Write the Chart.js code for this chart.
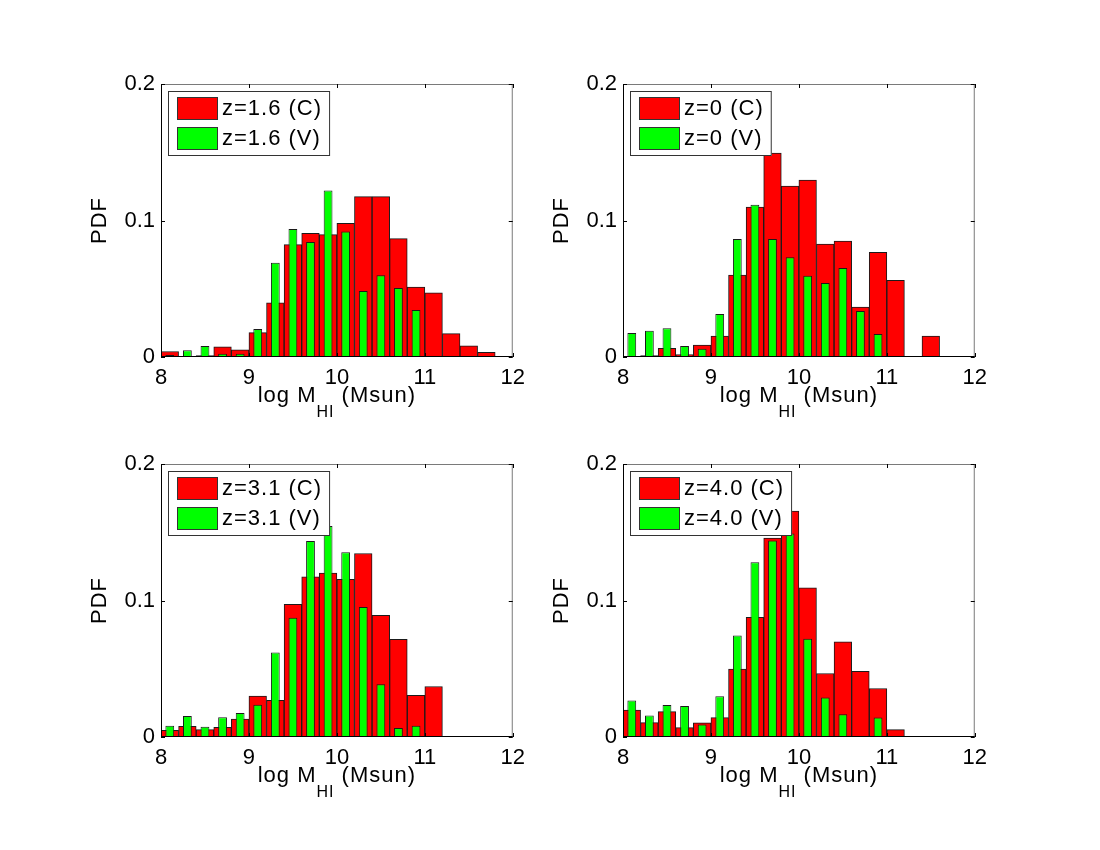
<!DOCTYPE html>
<html>
<head>
<meta charset="utf-8">
<script src="https://cdn.jsdelivr.net/npm/chart.js@4/dist/chart.umd.min.js"></script>
<style>
  html, body { margin: 0; padding: 0; background: #ffffff; }
  #fig { position: relative; width: 1100px; height: 850px; background: #ffffff; overflow: hidden; }
  #fig canvas { position: absolute; }
</style>
</head>
<body>
<div id="fig"></div>
<script>
// ---- data ----
const binCenters = [8.1, 8.3, 8.5, 8.7, 8.9, 9.1, 9.3, 9.5, 9.7, 9.9, 10.1, 10.3, 10.5, 10.7, 10.9, 11.1, 11.3, 11.5, 11.7, 11.9];
const xTickValues = [8, 9, 10, 11, 12];
const yTickValues = [0, 0.1, 0.2];
const yTickLabels = ['0', '0.1', '0.2'];

const z16C = [0.0040, 0.0005, 0.0010, 0.0075, 0.0052, 0.0178, 0.0396, 0.0823, 0.0906, 0.0896, 0.0980, 0.1175, 0.1175, 0.0867, 0.0513, 0.0471, 0.0171, 0.0081, 0.0034, 0];
const z16V = [0.0015, 0.0049, 0.0081, 0.0024, 0.0023, 0.0205, 0.0691, 0.0938, 0.0842, 0.1219, 0.0920, 0.0484, 0.0598, 0.0505, 0.0344, 0, 0, 0, 0, 0];

const z0C = [0.0005, 0.0010, 0.0063, 0.0017, 0.0088, 0.0154, 0.0601, 0.1099, 0.1494, 0.1253, 0.1297, 0.0828, 0.0850, 0.0366, 0.0767, 0.0562, 0, 0.0154, 0, 0];
const z0V = [0.0176, 0.0193, 0.0210, 0.0081, 0.0061, 0.0315, 0.0864, 0.1116, 0.0864, 0.0730, 0.0596, 0.0542, 0.0652, 0.0337, 0.0168, 0, 0, 0, 0, 0];

const z31C = [0.0049, 0.0078, 0.0054, 0.0071, 0.0132, 0.0299, 0.0269, 0.0972, 0.1173, 0.1200, 0.1155, 0.1344, 0.0891, 0.0715, 0.0306, 0.0370, 0, 0, 0, 0];
const z31V = [0.0083, 0.0154, 0.0076, 0.0144, 0.0176, 0.0237, 0.0619, 0.0874, 0.1435, 0.1545, 0.1354, 0.0952, 0.0387, 0.0066, 0.0083, 0, 0, 0, 0, 0];

const z40C = [0.0198, 0.0105, 0.0186, 0.0069, 0.0103, 0.0142, 0.0497, 0.0876, 0.1457, 0.1655, 0.1092, 0.0465, 0.0698, 0.0482, 0.0355, 0.0054, 0, 0, 0, 0];
const z40V = [0.0267, 0.0157, 0.0235, 0.0228, 0.0091, 0.0299, 0.0744, 0.1280, 0.1439, 0.1490, 0.0720, 0.0289, 0.0166, 0, 0.0142, 0, 0, 0, 0, 0];

const panelLabels = [
  ['z=1.6 (C)', 'z=1.6 (V)'],
  ['z=0 (C)', 'z=0 (V)'],
  ['z=3.1 (C)', 'z=3.1 (V)'],
  ['z=4.0 (C)', 'z=4.0 (V)']
];
const panelSeries = [[z16C, z16V], [z0C, z0V], [z31C, z31V], [z40C, z40V]];
const yTitle = 'PDF';
const xTitleParts = ['log M', 'HI', ' (Msun)'];

// ---- layout ----
const FONT = "'Liberation Sans', Arial, Helvetica, sans-serif";
const panelPos = [
  { left: 161, top: 84 },
  { left: 623, top: 84 },
  { left: 161, top: 464 },
  { left: 623, top: 464 }
];
const PW = 352, PH = 273, PADL = 100, PADT = 20, PADR = 20, PADB = 80;

const RED = '#ff0000', GREEN = '#00ff00', EDGE = '#1a1a1a';

function decorPlugin(labels) {
  return {
    id: 'matlabDecor',
    afterDatasetsDraw(chart) {
      const ctx = chart.ctx;
      const ca = chart.chartArea;
      const xs = chart.scales.x, ys = chart.scales.y;
      ctx.save();
      // box lines
      ctx.lineWidth = 1;
      ctx.strokeStyle = '#7a7a7a';
      ctx.beginPath();
      ctx.moveTo(ca.left, ca.top + 0.5); ctx.lineTo(ca.right, ca.top + 0.5);
      ctx.moveTo(ca.right - 0.5, ca.top); ctx.lineTo(ca.right - 0.5, ca.bottom);
      ctx.stroke();
      ctx.strokeStyle = '#000000';
      ctx.beginPath();
      ctx.moveTo(ca.left + 0.5, ca.top); ctx.lineTo(ca.left + 0.5, ca.bottom);
      ctx.moveTo(ca.left, ca.bottom - 0.5); ctx.lineTo(ca.right, ca.bottom - 0.5);
      ctx.stroke();
      // inward ticks
      const TL = 4;
      ctx.beginPath();
      xTickValues.forEach(v => {
        const px = Math.round(xs.getPixelForValue(v)) + 0.5;
        ctx.moveTo(px, ca.bottom); ctx.lineTo(px, ca.bottom - TL);
        ctx.moveTo(px, ca.top); ctx.lineTo(px, ca.top + TL);
      });
      yTickValues.forEach(v => {
        const py = Math.round(ys.getPixelForValue(v)) + 0.5;
        ctx.moveTo(ca.left, py); ctx.lineTo(ca.left + TL, py);
        ctx.moveTo(ca.right, py); ctx.lineTo(ca.right - TL, py);
      });
      ctx.stroke();

      if ('letterSpacing' in ctx) ctx.letterSpacing = '1px';

      // legend (drawn over bars)
      const bx = ca.left + 7, by = ca.top + 7, bh = 65;
      ctx.font = '22px ' + FONT;
      const tw = Math.max(ctx.measureText(labels[0]).width, ctx.measureText(labels[1]).width);
      const tx = ca.left + 61;
      const bw = (tx + tw + 8) - bx;
      ctx.fillStyle = '#ffffff';
      ctx.fillRect(bx, by, bw, bh);
      ctx.strokeStyle = '#333333';
      ctx.strokeRect(bx + 0.5, by + 0.5, bw - 1, bh - 1);
      const sw = [{ y: ca.top + 13, c: RED }, { y: ca.top + 43, c: GREEN }];
      sw.forEach((s, i) => {
        ctx.fillStyle = s.c;
        ctx.fillRect(ca.left + 16, s.y, 41, 23);
        ctx.strokeStyle = '#333333';
        ctx.strokeRect(ca.left + 16.5, s.y + 0.5, 40, 22);
        ctx.fillStyle = '#000000';
        ctx.textAlign = 'left';
        ctx.textBaseline = 'middle';
        ctx.fillText(labels[i], tx, s.y + 12);
      });

      // y title
      ctx.save();
      ctx.translate(ca.left - 61, (ca.top + ca.bottom) / 2);
      ctx.rotate(-Math.PI / 2);
      ctx.font = '22px ' + FONT;
      ctx.textAlign = 'center';
      ctx.textBaseline = 'middle';
      ctx.fillStyle = '#000000';
      ctx.fillText(yTitle, 0, 0);
      ctx.restore();

      // x title with subscript
      const mainFont = '22px ' + FONT, subFont = '16px ' + FONT;
      ctx.font = mainFont; const w1 = ctx.measureText(xTitleParts[0]).width;
      ctx.font = subFont; const w2 = ctx.measureText(xTitleParts[1]).width;
      ctx.font = mainFont; const w3 = ctx.measureText(xTitleParts[2]).width;
      const total = w1 + w2 + w3;
      let x0 = (ca.left + ca.right) / 2 - total / 2;
      const base = ca.bottom + 44.5;
      ctx.textAlign = 'left';
      ctx.textBaseline = 'alphabetic';
      ctx.fillStyle = '#000000';
      ctx.font = mainFont; ctx.fillText(xTitleParts[0], x0, base);
      ctx.font = subFont; ctx.fillText(xTitleParts[1], x0 + w1, base + 15);
      ctx.font = mainFont; ctx.fillText(xTitleParts[2], x0 + w1 + w2, base);
      ctx.restore();
    }
  };
}

const fig = document.getElementById('fig');
panelPos.forEach((p, i) => {
  const cv = document.createElement('canvas');
  const W = PADL + PW + PADR, H = PADT + PH + PADB;
  cv.width = W; cv.height = H;
  cv.style.width = W + 'px'; cv.style.height = H + 'px';
  cv.style.left = (p.left - PADL) + 'px';
  cv.style.top = (p.top - PADT) + 'px';
  fig.appendChild(cv);

  const [cData, vData] = panelSeries[i];
  new Chart(cv, {
    type: 'bar',
    data: {
      datasets: [
        {
          label: panelLabels[i][0],
          data: binCenters.map((x, k) => ({ x: x, y: cData[k] })),
          backgroundColor: RED,
          borderColor: EDGE,
          borderWidth: 1,
          borderSkipped: false,
          barPercentage: 1.0,
          categoryPercentage: 1.0,
          grouped: false,
          order: 2
        },
        {
          label: panelLabels[i][1],
          data: binCenters.map((x, k) => ({ x: x, y: vData[k] })),
          backgroundColor: GREEN,
          borderColor: EDGE,
          borderWidth: 1,
          borderSkipped: false,
          barPercentage: 0.5,
          categoryPercentage: 1.0,
          grouped: false,
          order: 1
        }
      ]
    },
    options: {
      responsive: false,
      animation: false,
      devicePixelRatio: 1,
      layout: { padding: { left: 0, top: PADT, right: PADR, bottom: 0 } },
      plugins: { legend: { display: false }, tooltip: { enabled: false } },
      scales: {
        x: {
          type: 'linear',
          min: 8, max: 12,
          offset: false,
          grid: { display: false, drawTicks: false },
          border: { display: false },
          ticks: {
            stepSize: 1,
            padding: 8,
            color: '#000000',
            font: { family: FONT, size: 22 },
            maxRotation: 0,
            autoSkip: false
          },
          afterFit: s => { s.height = PADB; }
        },
        y: {
          type: 'linear',
          min: 0, max: 0.2,
          grid: { display: false, drawTicks: false },
          border: { display: false },
          ticks: {
            stepSize: 0.1,
            padding: 6,
            color: '#000000',
            font: { family: FONT, size: 22 },
            callback: (v) => {
              const k = yTickValues.findIndex(t => Math.abs(t - v) < 1e-9);
              return k >= 0 ? yTickLabels[k] : '';
            }
          },
          afterFit: s => { s.width = PADL; }
        }
      }
    },
    plugins: [decorPlugin(panelLabels[i])]
  });
});
</script>
</body>
</html>
